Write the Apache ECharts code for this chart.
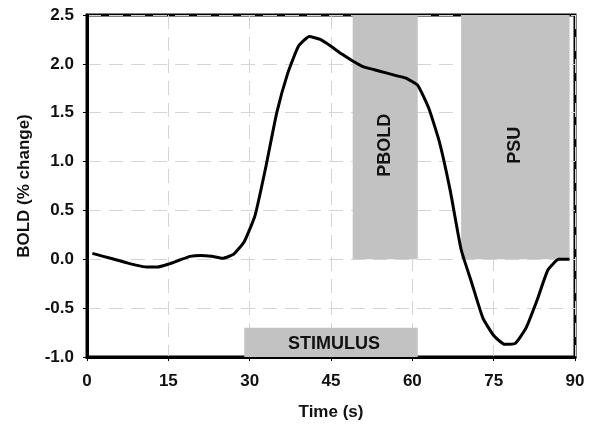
<!DOCTYPE html>
<html>
<head>
<meta charset="utf-8">
<script src="https://cdn.jsdelivr.net/npm/echarts@6/dist/echarts.min.js"></script>
<style>
  html, body { margin: 0; padding: 0; background: #fff; }
  #chart { width: 595px; height: 427px; }
</style>
</head>
<body>
<div id="chart"></div>
<script>
// time points (s), sampled every 2 s
const times = [1, 3, 5, 7, 9, 11, 13, 15, 17, 19, 21, 23, 25, 27, 29, 31, 33, 35, 37, 39, 41, 43, 45,
  47, 49, 51, 53, 55, 57, 59, 61, 63, 65, 67, 69, 71, 73, 75, 77, 79, 81, 83, 85, 87, 89]
// BOLD % change
const bold = [0.06, 0.03, 0.0, -0.03, -0.06, -0.08, -0.08, -0.05, -0.01, 0.03, 0.04, 0.03, 0.01, 0.05, 0.18,
  0.45, 0.95, 1.5, 1.9, 2.18, 2.28, 2.25, 2.18, 2.1, 2.03, 1.97, 1.94, 1.91, 1.88, 1.85, 1.78,
  1.55, 1.2, 0.7, 0.1, -0.25, -0.6, -0.78, -0.87, -0.86, -0.7, -0.42, -0.11, 0.0, 0.0]

// shaded periods: [label, t start, t end, y bottom, y top]
const periods = [
  ['PBOLD', 49, 61, 0, 2.5],
  ['PSU', 69, 89, 0, 2.5],
  ['STIMULUS', 29, 61, -1.0, -0.7]
]

const chart = echarts.init(document.getElementById('chart'))

const fontFam = '"Liberation Sans", Arial, sans-serif'

const option = {
  animation: false,
  grid: {
    left: 87,
    right: 20,
    top: 15,
    bottom: 70,
    show: true,
    borderColor: '#000',
    borderWidth: 3
  },
  xAxis: {
    type: 'value',
    min: 0,
    max: 90,
    interval: 15,
    name: 'Time (s)',
    nameLocation: 'middle',
    nameGap: 47,
    nameTextStyle: { color: '#111', fontSize: 17, fontWeight: 'bold', fontFamily: fontFam },
    axisLine: { onZero: false, lineStyle: { color: '#000', width: 3 } },
    axisTick: { show: true, length: 4, lineStyle: { color: '#000', width: 1 } },
    axisLabel: { color: '#111', fontSize: 17, fontWeight: 'bold', fontFamily: fontFam, margin: 16 },
    splitLine: { show: true, lineStyle: { color: '#d4d4d4', width: 1, type: [14, 8] } }
  },
  yAxis: {
    type: 'value',
    min: -1.0,
    max: 2.5,
    interval: 0.5,
    name: 'BOLD (% change)',
    nameLocation: 'middle',
    nameGap: 54,
    nameTextStyle: { color: '#111', fontSize: 17, fontWeight: 'bold', fontFamily: fontFam },
    axisLine: { onZero: false, lineStyle: { color: '#000', width: 3 } },
    axisTick: { show: true, length: 4, lineStyle: { color: '#000', width: 1 } },
    axisLabel: {
      color: '#111', fontSize: 17, fontWeight: 'bold', fontFamily: fontFam, margin: 13,
      formatter: v => v.toFixed(1)
    },
    splitLine: { show: true, lineStyle: { color: '#d4d4d4', width: 1, type: [14, 8] } }
  },
  series: [
    {
      type: 'line',
      data: [],
      silent: true,
      z: 1,
      markArea: {
        silent: true,
        itemStyle: { color: '#c2c2c2' },
        data: periods.map(p => [
          {
            name: p[0],
            xAxis: p[1],
            yAxis: p[3],
            label: {
              show: true,
              position: 'inside',
              rotate: p[0] === 'STIMULUS' ? 0 : 90,
              offset: p[0] === 'STIMULUS' ? [3, 2] : [-8, 0],
              color: '#111',
              fontSize: 18,
              fontWeight: 'bold',
              fontFamily: fontFam
            }
          },
          { xAxis: p[2], yAxis: p[4] }
        ])
      }
    },
    {
      type: 'line',
      data: times.map((t, i) => [t, bold[i]]),
      showSymbol: false,
      smooth: 0.15,
      z: 3,
      lineStyle: { color: '#000', width: 3 }
    }
  ]
}

chart.setOption(option)
</script>
</body>
</html>
